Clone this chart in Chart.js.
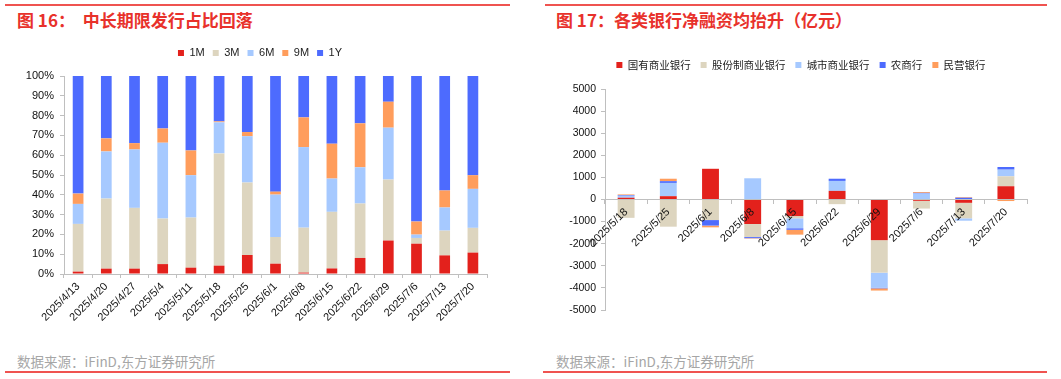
<!DOCTYPE html>
<html><head><meta charset="utf-8">
<script src="https://cdn.jsdelivr.net/npm/chart.js@4.4.0/dist/chart.umd.min.js"></script>
<style>
html,body{margin:0;padding:0;background:#fff;width:1061px;height:379px;overflow:hidden;font-family:"Noto Sans CJK SC",sans-serif;}
.line{position:absolute;height:2px;background:#EF5350;}
.title{position:absolute;top:8px;font-size:17px;font-weight:bold;color:#E8312B;white-space:pre;line-height:24px;font-family:"Noto Sans CJK SC",sans-serif;}
.src{position:absolute;top:352px;font-size:13.5px;color:#A6A6A6;white-space:pre;line-height:19px;font-family:"Noto Sans CJK SC",sans-serif;}
.cw{position:absolute;}
</style>
</head><body>
<div class="line" style="left:5px;top:4px;width:505px;"></div>
<div class="line" style="left:545px;top:4px;width:502px;"></div>
<div class="title" style="left:17px;">图 16：  中长期限发行占比回落</div>
<div class="title" style="left:556px;">图 17：各类银行净融资均抬升（亿元）</div>
<div class="cw" style="left:0px;top:30px;width:520px;height:300px;"><canvas id="c1" width="520" height="300"></canvas></div>
<div class="cw" style="left:540px;top:30px;width:521px;height:300px;"><canvas id="c2" width="521" height="300"></canvas></div>
<div class="src" style="left:17px;">数据来源：iFinD,东方证券研究所</div>
<div class="src" style="left:556px;">数据来源：iFinD,东方证券研究所</div>
<div class="line" style="left:5px;top:371px;width:505px;"></div>
<div class="line" style="left:543px;top:371px;width:504px;"></div>
<script>
// ---- Chart 1 data (issuance share by tenor, %) ----
const dates1 = ['2025/4/13','2025/4/20','2025/4/27','2025/5/4','2025/5/11','2025/5/18','2025/5/25','2025/6/1','2025/6/8','2025/6/15','2025/6/22','2025/6/29','2025/7/6','2025/7/13','2025/7/20'];
const s1M = [1.2,2.7,2.7,5.0,3.2,4.2,9.6,5.2,0.7,2.8,8.1,16.9,15.3,9.4,10.8];
const s3M = [24.1,35.4,30.7,23.0,25.3,56.7,36.6,13.5,22.7,28.6,27.5,30.8,2.9,12.5,12.5];
const s6M = [10.1,23.8,29.5,38.3,21.4,15.7,23.4,21.4,40.7,16.8,18.3,26.2,1.7,11.7,19.7];
const s9M = [5.2,6.6,3.2,7.2,12.5,0.5,2.1,1.5,15.0,17.6,22.2,13.1,6.6,8.6,6.9];
const s1Y = [59.4,31.5,33.9,26.5,37.6,22.9,28.3,58.4,20.9,34.2,23.9,13.0,73.5,57.8,50.1];
const pctTicks = [0,10,20,30,40,50,60,70,80,90,100];

// ---- Chart 2 data (net financing by bank type, 亿元) ----
const dates2 = ['2025/5/18','2025/5/25','2025/6/1','2025/6/8','2025/6/15','2025/6/22','2025/6/29','2025/7/6','2025/7/13','2025/7/20'];
const stateBanks = [80,150,1390,-1110,-750,390,-1840,-60,-150,600];
const jointBanks = [-830,-1230,-930,-590,-100,-210,-1470,-350,-700,450];
const cityBanks = [90,600,0,960,-450,450,-680,270,-110,300];
const ruralBanks = [30,80,-250,-50,-70,100,-30,30,80,120];
const privateBanks = [30,110,-80,-20,-220,0,-100,40,30,-70];
const valTicks = [-5000,-4000,-3000,-2000,-1000,0,1000,2000,3000,4000,5000];

const C_RED='#E3211C', C_BEIGE='#DDD5BF', C_LBLUE='#A6C9FF', C_ORANGE='#FF9D5C', C_BLUE='#4D6BFE';
const AX='#BFBFBF';
const fontNum = {family:'"Liberation Sans", Arial, sans-serif', size:11};
const fontCJK = {family:'"Noto Sans CJK SC", sans-serif', size:10.5};

function legendHeight(h){
  return {id:'lh', beforeInit(chart){ const f = chart.legend.fit; chart.legend.fit = function(){ f.call(this); this.height = h; }; }};
}
const noClip = s => { s._computeLabelArea = () => undefined; };

new Chart(document.getElementById('c1'), {
  type:'bar',
  data:{
    labels: dates1,
    datasets:[
      {label:'1M', data:s1M, backgroundColor:C_RED},
      {label:'3M', data:s3M, backgroundColor:C_BEIGE},
      {label:'6M', data:s6M, backgroundColor:C_LBLUE},
      {label:'9M', data:s9M, backgroundColor:C_ORANGE},
      {label:'1Y', data:s1Y, backgroundColor:C_BLUE}
    ]
  },
  options:{
    responsive:false, animation:false,
    layout:{padding:{left:33,right:33,top:9.5,bottom:0}},
    datasets:{bar:{categoryPercentage:1, barPercentage:0.38, borderWidth:0}},
    plugins:{
      legend:{position:'top', labels:{boxWidth:6, boxHeight:6, padding:8, color:'#222', font:{family:'"Liberation Sans", Arial, sans-serif', size:11}}},
      tooltip:{enabled:false}
    },
    scales:{
      x:{stacked:true, grid:{display:true, drawOnChartArea:false, tickLength:4, color:AX}, border:{color:AX},
         ticks:{autoSkip:false, minRotation:45, maxRotation:45, color:'#111', font:fontNum, padding:2},
         afterFit(s){ s.height = 56; noClip(s); }},
      y:{stacked:true, min:0, max:100, grid:{display:true, drawOnChartArea:false, tickLength:4, color:AX}, border:{color:AX},
         afterBuildTicks(s){ s.ticks = pctTicks.map(v=>({value:v})); },
         ticks:{color:'#111', font:fontNum, padding:6, callback:v=>v+'%'},
         afterFit(s){ s.width = 31; noClip(s); }}
    }
  },
  plugins:[legendHeight(36.5)]
});

new Chart(document.getElementById('c2'), {
  type:'bar',
  data:{
    labels: dates2,
    datasets:[
      {label:'国有商业银行', data:stateBanks, backgroundColor:C_RED},
      {label:'股份制商业银行', data:jointBanks, backgroundColor:C_BEIGE},
      {label:'城市商业银行', data:cityBanks, backgroundColor:C_LBLUE},
      {label:'农商行', data:ruralBanks, backgroundColor:C_BLUE},
      {label:'民营银行', data:privateBanks, backgroundColor:C_ORANGE}
    ]
  },
  options:{
    responsive:false, animation:false,
    layout:{padding:{left:35,right:34,top:19.75,bottom:20}},
    datasets:{bar:{categoryPercentage:1, barPercentage:0.4, borderWidth:0}},
    plugins:{
      legend:{position:'top', labels:{boxWidth:6, boxHeight:6, padding:10, color:'#222', font:fontCJK}},
      tooltip:{enabled:false}
    },
    scales:{
      x:{stacked:true, position:{y:0}, grid:{display:true, drawOnChartArea:false, tickLength:4, color:AX}, border:{color:AX, z:1},
         ticks:{autoSkip:false, minRotation:45, maxRotation:45, color:'#111', font:fontNum, padding:2, z:2},
         afterFit(s){ noClip(s); }},
      y:{stacked:true, min:-5000, max:5000, grid:{display:true, drawOnChartArea:false, tickLength:4, color:AX}, border:{color:AX},
         afterBuildTicks(s){ s.ticks = valTicks.map(v=>({value:v})); },
         ticks:{color:'#111', font:{family:'"Liberation Sans", Arial, sans-serif', size:10.5}, padding:5, callback:v=>String(v)},
         afterFit(s){ s.width = 30; noClip(s); }}
    }
  },
  plugins:[legendHeight(39.25)]
});
</script>
</body></html>
